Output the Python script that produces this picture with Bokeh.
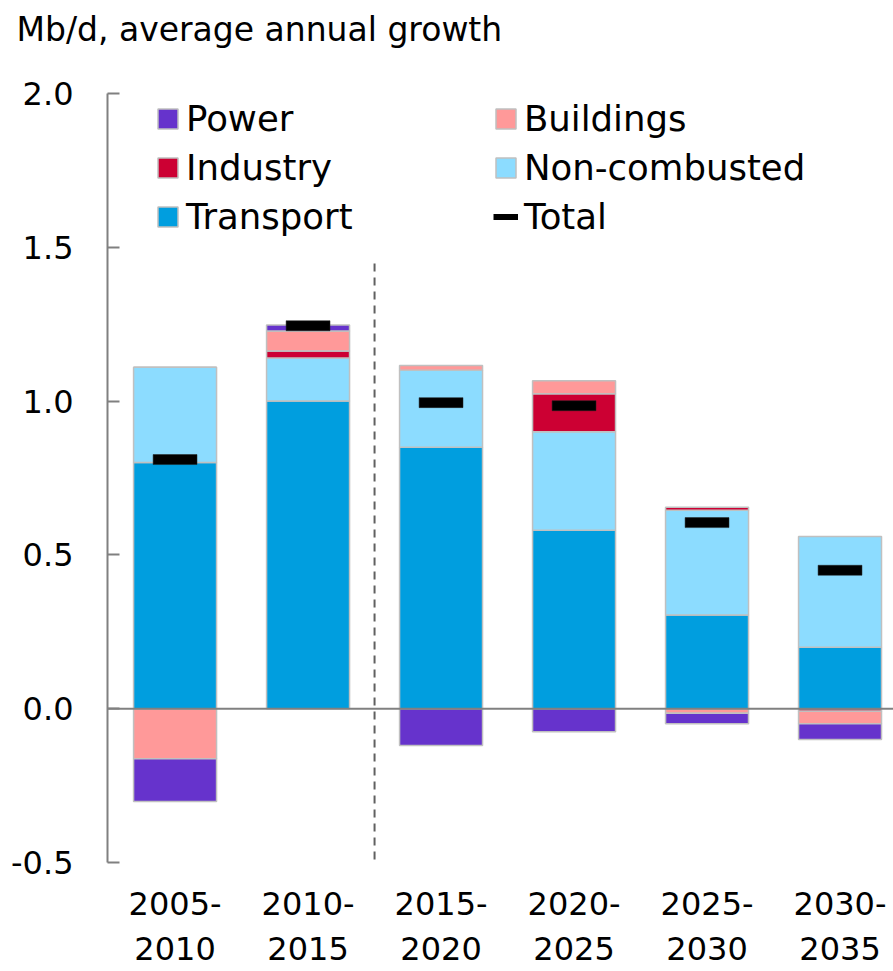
import numpy as np
from bokeh.plotting import figure
from bokeh.models import Range1d, Span, Legend, ColumnDataSource, FixedTicker, NumeralTickFormatter
from bokeh.embed import file_html
from bokeh.resources import INLINE

# ---- data ----
periods = ["2005-\n2010", "2010-\n2015", "2015-\n2020", "2020-\n2025", "2025-\n2030", "2030-\n2035"]
transport = [0.80, 1.00, 0.85, 0.58, 0.305, 0.20]
non_combusted = [0.31, 0.14, 0.25, 0.32, 0.34, 0.36]
industry = [0.0, 0.023, 0.0, 0.124, 0.01, -0.008]
buildings = [-0.163, 0.065, 0.016, 0.042, -0.015, -0.041]
power = [-0.139, 0.019, -0.12, -0.075, -0.034, -0.051]
total = [0.81, 1.245, 0.995, 0.985, 0.605, 0.45]
y_ticks = [-0.5, 0.0, 0.5, 1.0, 1.5, 2.0]
history_end = 1  # index of the last historical period (divider after it)

series = [
    ("Transport", transport, "#009EDF"),
    ("Non-combusted", non_combusted, "#8CDCFF"),
    ("Industry", industry, "#CC0033"),
    ("Buildings", buildings, "#FF9999"),
    ("Power", power, "#6633CC"),
]

FONT = "DejaVu Sans"
x = np.arange(len(periods))

p = figure(width=893, height=971, output_backend="svg", toolbar_location=None,
           x_range=Range1d(-0.508, 5.402), y_range=Range1d(-0.5, 2.0),
           min_border_left=107, min_border_right=0, min_border_top=93, min_border_bottom=109,
           background_fill_color="white", border_fill_color="white")
p.outline_line_color = None
p.grid.visible = False

p.title.text = "Mb/d, average annual growth\n"
p.title.text_font = FONT
p.title.text_font_size = "33px"
p.title.text_font_style = "normal"
p.title.text_color = "#000000"
p.title.align = "left"
p.title.vertical_align = "bottom"
p.title.offset = -91
p.title.standoff = 12

renderers = {}
pos_base = np.zeros(len(x))
neg_base = np.zeros(len(x))
for name, vals, color in series:
    v = np.array(vals, dtype=float)
    bottom = np.where(v >= 0, pos_base, neg_base + v)
    top = np.where(v >= 0, pos_base + v, neg_base)
    pos_base = pos_base + np.where(v >= 0, v, 0)
    neg_base = neg_base + np.where(v < 0, v, 0)
    src = ColumnDataSource(dict(x=x, top=top, bottom=bottom))
    renderers[name] = p.vbar(x="x", top="top", bottom="bottom", width=0.624, source=src,
                             fill_color=color, line_color="#C0C0C0", line_width=1.5)

tsrc = ColumnDataSource(dict(x=x, y=total))
p.rect(x="x", y="y", width=0.33, height=10, height_units="screen", source=tsrc,
       fill_color="black", line_color="#222222", line_width=0.5)
total_leg = p.line(x=[np.nan], y=[np.nan], line_color="black", line_width=6)

p.add_layout(Span(location=0, dimension="width", line_color="#808080", line_width=2))
div_x = history_end + 0.5
p.segment(x0=[div_x], y0=[-0.49], x1=[div_x], y1=[1.45], line_color="#606060",
          line_width=2, line_dash="8 6")

# axes
p.yaxis.ticker = FixedTicker(ticks=y_ticks)
p.yaxis.formatter = NumeralTickFormatter(format="0.0")
p.yaxis.axis_line_color = "#808080"
p.yaxis.axis_line_width = 2
p.yaxis.major_tick_line_color = "#808080"
p.yaxis.major_tick_line_width = 2
p.yaxis.major_tick_in = 12
p.yaxis.major_tick_out = 0
p.yaxis.minor_tick_line_color = None
p.yaxis.major_label_standoff = 34
p.yaxis.major_label_text_font = FONT
p.yaxis.major_label_text_font_size = "32px"
p.yaxis.major_label_text_color = "black"

p.xaxis.ticker = FixedTicker(ticks=list(x))
p.xaxis.major_label_overrides = {int(i): periods[i] for i in x}
p.xaxis.axis_line_color = None
p.xaxis.major_tick_line_color = None
p.xaxis.minor_tick_line_color = None
p.xaxis.major_label_standoff = 16
p.xaxis.major_label_text_font = FONT
p.xaxis.major_label_text_font_size = "32px"
p.xaxis.major_label_text_color = "black"

def make_legend(items, loc):
    lg = Legend(items=items, location=loc, orientation="vertical")
    lg.border_line_color = None
    lg.background_fill_alpha = 0
    lg.label_text_font = FONT
    lg.label_text_font_size = "35.5px"
    lg.label_text_color = "black"
    lg.glyph_width = 25
    lg.glyph_height = 25
    lg.label_standoff = 6
    lg.spacing = 8
    lg.padding = 0
    lg.margin = 0
    return lg

leg1 = make_legend([("Power", [renderers["Power"]]), ("Industry", [renderers["Industry"]]),
                    ("Transport", [renderers["Transport"]])], (48, 625))
leg2 = make_legend([("Buildings", [renderers["Buildings"]]),
                    ("Non-combusted", [renderers["Non-combusted"]]),
                    ("Total", [total_leg])], (386, 625))
p.add_layout(leg1)
p.add_layout(leg2)

open("out.html", "w").write(file_html(p, INLINE))
